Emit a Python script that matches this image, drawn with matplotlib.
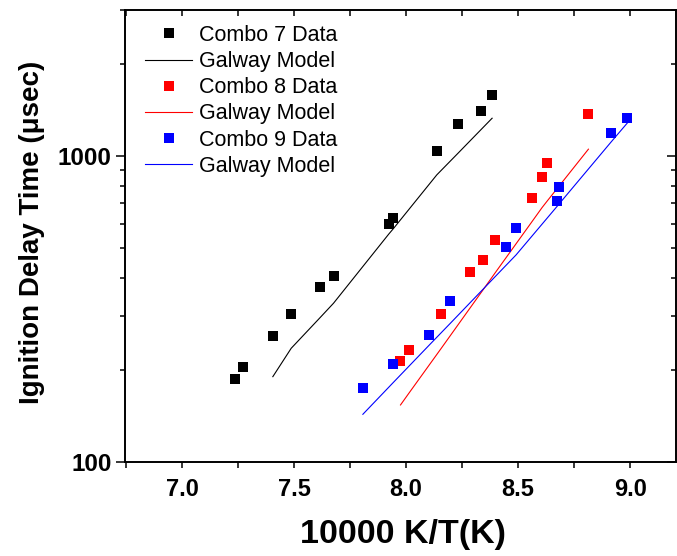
import numpy as np
import matplotlib.pyplot as plt
from matplotlib.ticker import MultipleLocator, LogLocator, NullFormatter, FixedLocator

# Combo 7
c7_x = [7.235, 7.272, 7.405, 7.484, 7.614, 7.676, 7.923, 7.942, 8.137, 8.231, 8.335, 8.384]
c7_y = [186.5, 204.6, 258.3, 304.2, 372.8, 405.0, 599.5, 628.4, 1041, 1275, 1400, 1584]
c7_mx = [7.405, 7.487, 7.615, 7.676, 7.923, 7.942, 8.137, 8.231, 8.335, 8.384]
c7_my = [189.7, 234.9, 295.4, 329.8, 555.6, 576.9, 866.8, 1019, 1220, 1328]

# Combo 8
c8_x = [7.975, 8.012, 8.157, 8.286, 8.342, 8.397, 8.564, 8.607, 8.629, 8.814]
c8_y = [213.5, 232.0, 304.2, 416.5, 456.9, 532.4, 727.0, 852.4, 951, 1375]
c8_mx = c8_x
c8_my = [153.3, 167.3, 234.9, 318.5, 363.4, 414.0, 612.4, 677.6, 710.5, 1052]

# Combo 9
c9_x = [7.807, 7.942, 8.104, 8.198, 8.446, 8.491, 8.674, 8.682, 8.915, 8.988]
c9_y = [174.7, 208.3, 259.7, 336.0, 503.0, 581.3, 714.1, 793.5, 1187.6, 1328]
c9_mx = c9_x
c9_my = [142.9, 181.3, 240.9, 283.8, 438.6, 474.5, 683.8, 695.0, 1110, 1282]

plt.rcParams['font.family'] = ['Liberation Sans', 'DejaVu Sans']

fig = plt.figure(figsize=(6.77, 5.56), dpi=100)
ax = fig.add_axes([125/677, 1 - 461.7/556, 551/677, (461.7 - 10)/556])

ms = 7.2
ax.plot(c7_x, c7_y, 's', color='black', ms=ms, mew=0, label='Combo 7 Data')
ax.plot(c7_mx, c7_my, '-', color='black', lw=0.8, label='Galway Model')
ax.plot(c8_x, c8_y, 's', color='red', ms=ms, mew=0, label='Combo 8 Data')
ax.plot(c8_mx, c8_my, '-', color='red', lw=0.8, label='Galway Model')
ax.plot(c9_x, c9_y, 's', color='blue', ms=ms, mew=0, label='Combo 9 Data')
ax.plot(c9_mx, c9_my, '-', color='blue', lw=0.8, label='Galway Model')

ax.set_yscale('log')
ax.set_xlim(6.745, 9.205)
ax.set_ylim(100, 3000)

ax.xaxis.set_major_locator(MultipleLocator(0.5))
ax.xaxis.set_minor_locator(MultipleLocator(0.25))
ax.yaxis.set_major_locator(FixedLocator([100, 1000]))
ax.yaxis.set_minor_locator(LogLocator(base=10, subs=np.arange(2, 10)))
ax.yaxis.set_minor_formatter(NullFormatter())
ax.set_yticklabels(['100', '1000'])
ax.set_xticklabels([f'{v:.1f}' for v in ax.get_xticks()])

for s in ax.spines.values():
    s.set_linewidth(1.4)

ax.tick_params(axis='x', which='both', direction='out', length=4, width=1.1,
               top=True, labelsize=17, pad=8)
ax.tick_params(axis='y', which='major', direction='out', length=6.5, width=1.1,
               labelsize=17.5, pad=3)
ax.tick_params(axis='y', which='minor', direction='out', length=3.6, width=1.1)
ax.tick_params(axis='y', which='both', right=True)
for lab in ax.get_xticklabels() + ax.get_yticklabels():
    lab.set_fontweight('bold')

# ticks on top/right point inward
for t in ax.xaxis.get_major_ticks() + ax.xaxis.get_minor_ticks():
    t.tick2line.set_marker(3)
for t in ax.yaxis.get_major_ticks() + ax.yaxis.get_minor_ticks():
    t.tick2line.set_marker(0)

ax.set_xlabel('10000 K/T(K)', fontsize=24.5, fontweight='bold')
ax.set_ylabel('Ignition Delay Time (μsec)', fontsize=20, fontweight='bold')
ax.xaxis.set_label_coords(0.504, -0.127)
ax.yaxis.set_label_coords(-0.145, 0.508)

ax.legend(loc='upper left', bbox_to_anchor=(0.036, 0.967), frameon=False,
          fontsize=15.5, handlelength=2.2, handletextpad=0.3, labelspacing=0.24,
          borderpad=0, borderaxespad=0, markerscale=1.0)

fig.savefig('out.png', dpi=100)
